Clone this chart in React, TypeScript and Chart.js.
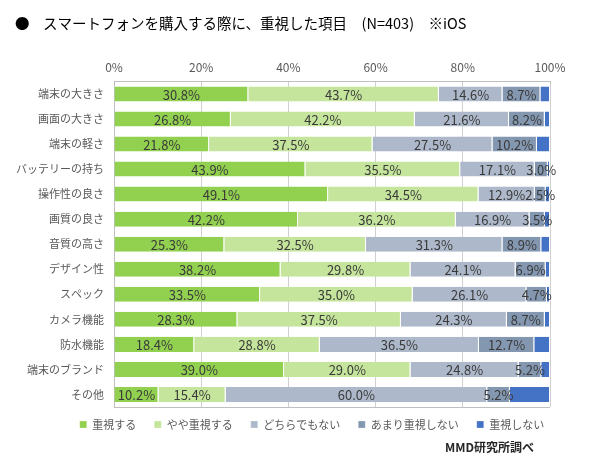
import React, { useEffect, useRef } from 'react';
import { Chart, registerables } from 'chart.js';

Chart.register(...registerables);

const FONT = "'Noto Sans CJK JP', 'Noto Sans', sans-serif";

const titleText = 'スマートフォンを購入する際に、重視した項目　(N=403)　※iOS';
const creditText = 'MMD研究所調べ';

const categories = [
  '端末の大きさ',
  '画面の大きさ',
  '端末の軽さ',
  'バッテリーの持ち',
  '操作性の良さ',
  '画質の良さ',
  '音質の高さ',
  'デザイン性',
  'スペック',
  'カメラ機能',
  '防水機能',
  '端末のブランド',
  'その他',
];

const seriesNames = ['重視する', 'やや重視する', 'どちらでもない', 'あまり重視しない', '重視しない'];
const seriesColors = ['#92D050', '#C4E59B', '#ADB9CA', '#8497B0', '#4472C4'];

const s1 = [30.8, 26.8, 21.8, 43.9, 49.1, 42.2, 25.3, 38.2, 33.5, 28.3, 18.4, 39.0, 10.2];
const s2 = [43.7, 42.2, 37.5, 35.5, 34.5, 36.2, 32.5, 29.8, 35.0, 37.5, 28.8, 29.0, 15.4];
const s3 = [14.6, 21.6, 27.5, 17.1, 12.9, 16.9, 31.3, 24.1, 26.1, 24.3, 36.5, 24.8, 60.0];
const s4 = [8.7, 8.2, 10.2, 3.0, 2.5, 3.5, 8.9, 6.9, 4.7, 8.7, 12.7, 5.2, 5.2];
const s5 = [2.2, 1.2, 3.0, 0.5, 1.0, 1.2, 2.0, 1.0, 0.7, 1.2, 3.6, 2.0, 9.2];
const seriesValues = [s1, s2, s3, s4, s5];
const labeledSeries = 4;

const xTicks = [0, 20, 40, 60, 80, 100];

const decorPlugin = {
  id: 'decor',
  afterLayout(chart: any) {
    const lg = chart.legend;
    if (lg) {
      lg.left += 33;
      lg.right += 33;
      lg.top -= 6;
      lg.bottom -= 6;
    }
  },
  afterDraw(chart: any) {
    const ctx = chart.ctx;
    const area = chart.chartArea;
    ctx.save();
    ctx.fillStyle = '#000000';
    ctx.textBaseline = 'middle';
    ctx.textAlign = 'left';
    ctx.font = `14.5px ${FONT}`;
    ctx.fillText('●', 15, 23);
    ctx.fillText(titleText, 43, 23);
    ctx.strokeStyle = '#BFBFBF';
    ctx.lineWidth = 1;
    ctx.beginPath();
    ctx.moveTo(area.left, Math.round(area.bottom) + 0.5);
    ctx.lineTo(area.right, Math.round(area.bottom) + 0.5);
    ctx.stroke();
    ctx.fillStyle = '#262626';
    ctx.textAlign = 'right';
    ctx.font = `bold 12px ${FONT}`;
    ctx.fillText(creditText, 534, 447);
    ctx.restore();
  },
  afterDatasetsDraw(chart: any) {
    const ctx = chart.ctx;
    ctx.save();
    ctx.fillStyle = '#3A3A3A';
    ctx.font = `13px ${FONT}`;
    ctx.textAlign = 'center';
    ctx.textBaseline = 'middle';
    for (let d = 0; d < labeledSeries; d++) {
      const meta = chart.getDatasetMeta(d);
      meta.data.forEach((bar: any, i: number) => {
        const { x, base, y } = bar.getProps(['x', 'base', 'y'], true);
        const v = chart.data.datasets[d].data[i] as number;
        ctx.fillText(v.toFixed(1) + '%', (x + base) / 2, y + 1);
      });
    }
    ctx.restore();
  },
};

export default function App() {
  const ref = useRef<HTMLCanvasElement | null>(null);

  useEffect(() => {
    document.body.style.margin = '0';
    if (!ref.current) return;
    const chart = new Chart(ref.current, {
      type: 'bar',
      data: {
        labels: categories,
        datasets: seriesNames.map((name, k) => ({
          label: name,
          data: seriesValues[k],
          backgroundColor: seriesColors[k],
          borderColor: '#FFFFFF',
          borderWidth: { top: 0, right: 1, bottom: 0, left: 0 },
          borderSkipped: false,
          barPercentage: 0.6,
          categoryPercentage: 1,
        })),
      },
      options: {
        indexAxis: 'y',
        animation: false,
        responsive: true,
        maintainAspectRatio: false,
        layout: { padding: { top: 53, left: 8, right: 50, bottom: 9 } },
        scales: {
          x: {
            position: 'top',
            stacked: true,
            min: 0,
            max: 100,
            afterBuildTicks: (scale: any) => {
              scale.ticks = xTicks.map((v) => ({ value: v }));
            },
            ticks: {
              callback: (v: any) => v + '%',
              color: '#595959',
              font: { family: FONT, size: 12 },
              padding: 7,
              maxRotation: 0,
            },
            grid: { color: '#D0D0D0', drawTicks: false },
            border: { display: true, color: '#BFBFBF' },
          },
          y: {
            stacked: true,
            afterFit: (scale: any) => {
              scale.width = 106;
            },
            ticks: {
              color: '#595959',
              font: { family: FONT, size: 11 },
              padding: 10,
            },
            grid: { display: false, drawTicks: false },
            border: { display: true, color: '#BFBFBF' },
          },
        },
        plugins: {
          legend: {
            position: 'bottom',
            labels: {
              boxWidth: 7,
              boxHeight: 7,
              padding: 18,
              color: '#595959',
              font: { family: FONT, size: 11 },
            },
          },
          tooltip: { enabled: false },
          title: { display: false },
        },
      },
      plugins: [decorPlugin],
    });
    return () => chart.destroy();
  }, []);

  return (
    <div style={{ position: 'absolute', left: 0, top: 0, width: 600, height: 455 }}>
      <canvas ref={ref} />
    </div>
  );
}
